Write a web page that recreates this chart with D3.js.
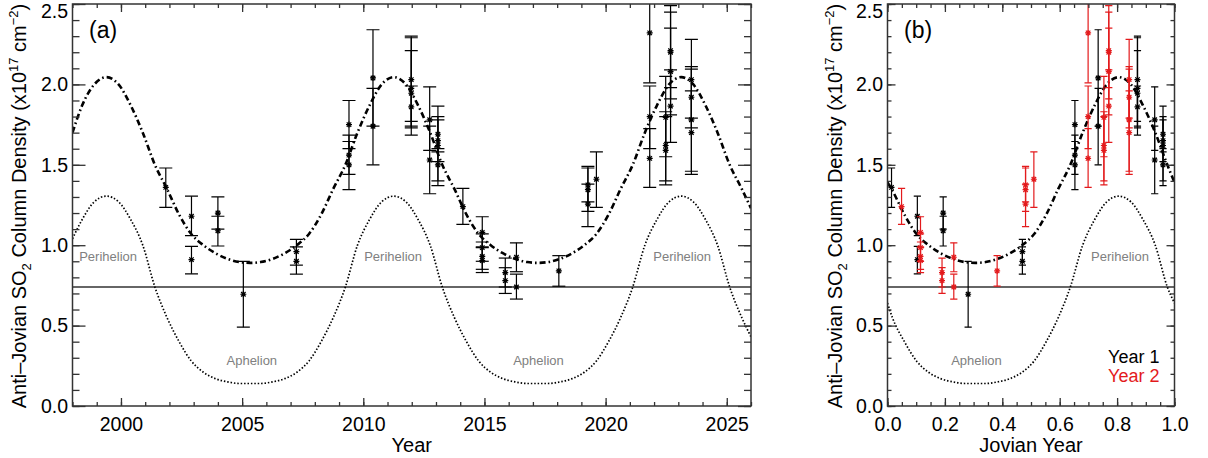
<!DOCTYPE html>
<html lang="en">
<head>
<meta charset="UTF-8">
<title>Anti-Jovian SO2 Column Density</title>
<script src="https://d3js.org/d3.v7.min.js"></script>
<style>
    body { margin: 0; background: #fff; }
    svg { display: block; font-family: "Liberation Sans", Arial, sans-serif; }
    .tick text { font-size: 19.5px; fill: #000; }
    .tick line { stroke: #333; stroke-width: 1.3px; }
    .frame { fill: none; stroke: #333; stroke-width: 1.5px; }
    .note { font-size: 13px; fill: #808080; }
    .axis-label { font-size: 20px; fill: #000; }
</style>
</head>
<body>
<svg width="1208" height="458"></svg>
<script>
// Model curves vs calendar year
const modelYear = [1998.0, 1998.4, 1998.9, 1999.4, 1999.9, 2000.4, 2000.9, 2001.4, 2001.9, 2002.4, 2002.9,
    2003.4, 2003.9, 2004.4, 2004.9, 2005.33, 2005.76, 2006.26, 2006.76, 2007.26, 2007.76, 2008.26, 2008.76,
    2009.26, 2009.76, 2010.26, 2010.76, 2011.26, 2011.76, 2012.26, 2012.76, 2013.26, 2013.76, 2014.26, 2014.76,
    2015.26, 2015.76, 2016.26, 2016.76, 2017.19, 2017.62, 2018.12, 2018.62, 2019.12, 2019.62, 2020.12, 2020.62,
    2021.12, 2021.62, 2022.12, 2022.62, 2023.12, 2023.62, 2024.12, 2024.62, 2025.12, 2025.62, 2026.0];
const modelColumn = [1.70, 1.87, 2.00, 2.045, 2.00, 1.87, 1.70, 1.50, 1.35, 1.19, 1.07,
    1.00, 0.95, 0.915, 0.895, 0.89, 0.895, 0.915, 0.95, 1.00, 1.07, 1.19, 1.35,
    1.50, 1.70, 1.87, 2.00, 2.045, 2.00, 1.87, 1.70, 1.50, 1.35, 1.19, 1.07,
    1.00, 0.95, 0.915, 0.895, 0.89, 0.895, 0.915, 0.95, 1.00, 1.07, 1.19, 1.35,
    1.50, 1.70, 1.87, 2.00, 2.045, 2.00, 1.87, 1.70, 1.50, 1.35, 1.23];
const modelDotted = [1.04, 1.16, 1.27, 1.305, 1.27, 1.16, 1.00, 0.74, 0.55, 0.40, 0.28,
    0.21, 0.17, 0.15, 0.14, 0.14, 0.14, 0.15, 0.17, 0.21, 0.28, 0.40, 0.55,
    0.74, 1.00, 1.16, 1.27, 1.305, 1.27, 1.16, 1.00, 0.74, 0.55, 0.40, 0.28,
    0.21, 0.17, 0.15, 0.14, 0.14, 0.14, 0.15, 0.17, 0.21, 0.28, 0.40, 0.55,
    0.74, 1.00, 1.16, 1.27, 1.305, 1.27, 1.16, 1.00, 0.74, 0.55, 0.43];

// Model curves vs Jovian year (panel b)
const modelPhase = [0.000, 0.017, 0.059, 0.101, 0.143, 0.185, 0.228, 0.270, 0.306, 0.342, 0.384, 0.427, 0.469,
    0.511, 0.553, 0.595, 0.637, 0.680, 0.722, 0.764, 0.806, 0.848, 0.890, 0.933, 0.975, 1.000];
const phaseColumn = [1.39, 1.34, 1.19, 1.07, 1.00, 0.95, 0.915, 0.895, 0.89, 0.895, 0.915, 0.95, 1.00,
    1.07, 1.19, 1.35, 1.50, 1.70, 1.87, 2.00, 2.045, 2.00, 1.87, 1.70, 1.50, 1.39];
const phaseDotted = [0.64, 0.55, 0.40, 0.28, 0.21, 0.17, 0.15, 0.14, 0.14, 0.14, 0.15, 0.17, 0.21,
    0.28, 0.40, 0.55, 0.74, 1.00, 1.16, 1.27, 1.305, 1.27, 1.16, 1.00, 0.74, 0.64];

const floorLevel = 0.74;

// Observations
const obsYear = [2001.85, 2002.91, 2002.91, 2004.0, 2004.0, 2005.05, 2007.24, 2007.24, 2009.41, 2009.41, 2009.41,
    2010.40, 2010.40, 2011.98, 2011.98, 2011.98, 2011.98, 2012.74, 2012.74, 2013.08, 2013.08, 2013.08, 2013.08,
    2014.11, 2014.91, 2014.91, 2014.91, 2014.91, 2015.86, 2015.86, 2016.32, 2016.32, 2018.07,
    2019.27, 2019.27, 2019.27, 2019.62, 2021.82, 2021.82, 2021.82, 2022.48, 2022.48, 2022.48,
    2022.68, 2022.68, 2022.68, 2022.68, 2023.54, 2023.54, 2023.54, 2023.54];
const obsPhase = [0.014, 0.104, 0.104, 0.194, 0.194, 0.281, 0.470, 0.470, 0.653, 0.653, 0.653,
    0.734, 0.734, 0.871, 0.871, 0.871, 0.871, 0.931, 0.931, 0.960, 0.960, 0.960, 0.960,
    0.049, 0.115, 0.115, 0.115, 0.115, 0.190, 0.190, 0.231, 0.231, 0.382,
    0.481, 0.481, 0.481, 0.510, 0.699, 0.699, 0.699, 0.754, 0.754, 0.754,
    0.771, 0.771, 0.771, 0.771, 0.842, 0.842, 0.842, 0.842];
const obsValue = [1.36, 1.18, 0.91, 1.20, 1.09, 0.695, 0.96, 0.90, 1.75, 1.56, 1.50,
    2.04, 1.74, 2.03, 1.975, 1.945, 1.86, 1.78, 1.53, 1.69, 1.65, 1.62, 1.50,
    1.24, 1.08, 0.985, 0.93, 0.905, 0.83, 0.78, 0.925, 0.74, 0.84,
    1.375, 1.345, 1.255, 1.41, 2.32, 1.80, 1.54, 1.795, 1.62, 1.59,
    2.21, 2.20, 2.08, 1.865, 2.03, 1.92, 1.78, 1.70];
const obsLow = [1.235, 1.06, 0.822, 1.10, 0.995, 0.49, 0.876, 0.82, 1.60, 1.44, 1.345,
    1.74, 1.50, 1.77, 1.74, 1.685, 1.73, 1.59, 1.32, 1.58, 1.52, 1.37, 1.40,
    1.13, 0.99, 0.90, 0.85, 0.83, 0.74, 0.70, 0.835, 0.665, 0.745,
    1.27, 1.21, 1.115, 1.235, 2.01, 1.60, 1.36, 1.55, 1.40, 1.375,
    1.98, 1.91, 1.81, 1.64, 1.79, 1.73, 1.46, 1.44];
const obsHigh = [1.48, 1.305, 0.993, 1.30, 1.18, 0.90, 1.036, 0.99, 1.90, 1.685, 1.645,
    2.34, 1.975, 2.29, 2.21, 2.30, 1.99, 1.985, 1.74, 1.80, 1.78, 1.865, 1.60,
    1.353, 1.177, 1.07, 1.02, 0.985, 0.92, 0.86, 1.015, 0.82, 0.935,
    1.49, 1.48, 1.38, 1.58, 2.64, 1.99, 1.725, 2.05, 1.83, 1.80,
    2.45, 2.49, 2.35, 2.09, 2.28, 2.11, 2.095, 1.96];
const obsOrbit = [1, 1, 1, 1, 1, 1, 1, 1, 1, 1, 1, 1, 1, 1, 1, 1, 1, 1, 1, 1, 1, 1, 1,
    2, 2, 2, 2, 2, 2, 2, 2, 2, 2, 2, 2, 2, 2, 2, 2, 2, 2, 2, 2, 2, 2, 2, 2, 2, 2, 2, 2];

// Axis ticks
const yMajor = [0.0, 0.5, 1.0, 1.5, 2.0, 2.5];
const yearMajor = [2000, 2005, 2010, 2015, 2020, 2025];
const phaseMajor = [0.0, 0.2, 0.4, 0.6, 0.8, 1.0];

// Annotation anchors
const periYears = [1999.47, 2011.23, 2023.16];
const aphYears = [2005.4, 2017.23];

const orbitColor = { 1: "#000000", 2: "#e31a1c" };

const svg = d3.select("svg");
const plotTop = 4, plotBottom = 406;

const y = d3.scaleLinear().domain([0, 2.5]).range([plotBottom, plotTop]);

const obs = obsYear.map((yr, i) => ({
    year: yr, phase: obsPhase[i], v: obsValue[i], lo: obsLow[i], hi: obsHigh[i], orbit: obsOrbit[i]
}));

// plus + cross asterisk, like IDL psym=2
const asterisk = {
    draw(ctx, size) {
        const r = Math.sqrt(size) / 2, d = r * 0.75;
        ctx.moveTo(-r, 0); ctx.lineTo(r, 0);
        ctx.moveTo(0, -r); ctx.lineTo(0, r);
        ctx.moveTo(-d, -d); ctx.lineTo(d, d);
        ctx.moveTo(-d, d); ctx.lineTo(d, -d);
    }
};

function drawPanel(opt) {
    const x = d3.scaleLinear().domain(opt.domain).range([opt.left, opt.right]);
    const g = svg.append("g");

    const clipId = "clip-" + opt.tag;
    svg.append("defs").append("clipPath").attr("id", clipId)
        .append("rect")
        .attr("x", opt.left).attr("y", plotTop)
        .attr("width", opt.right - opt.left).attr("height", plotBottom - plotTop);

    const plot = g.append("g").attr("clip-path", `url(#${clipId})`);

    // floor level
    plot.append("line")
        .attr("x1", opt.left).attr("x2", opt.right)
        .attr("y1", y(floorLevel)).attr("y2", y(floorLevel))
        .attr("stroke", "#333").attr("stroke-width", 1.5);

    const line = d3.line().curve(d3.curveMonotoneX).x(d => x(d[0])).y(d => y(d[1]));

    plot.append("path")
        .datum(opt.curveX.map((v, i) => [v, opt.dotted[i]]))
        .attr("d", line)
        .attr("fill", "none").attr("stroke", "#000")
        .attr("stroke-width", 1.7).attr("stroke-dasharray", "1.5,1.9");

    plot.append("path")
        .datum(opt.curveX.map((v, i) => [v, opt.column[i]]))
        .attr("d", line)
        .attr("fill", "none").attr("stroke", "#000")
        .attr("stroke-width", 2.6).attr("stroke-dasharray", "6,3,1.6,3");

    // annotations
    g.selectAll(".peri").data(opt.peri).join("text")
        .attr("class", "note").attr("text-anchor", "middle")
        .attr("x", d => x(d)).attr("y", y(0.9))
        .text("Perihelion");
    g.selectAll(".aph").data(opt.aph).join("text")
        .attr("class", "note").attr("text-anchor", "middle")
        .attr("x", d => x(d)).attr("y", y(0.252))
        .text("Aphelion");

    // error bars and markers
    const pts = plot.selectAll(".obs").data(obs).join("g")
        .attr("class", "obs")
        .attr("stroke", d => opt.colorByOrbit ? orbitColor[d.orbit] : "#000")
        .attr("stroke-width", 1.2);
    const cx = d => x(opt.xOf(d));
    pts.append("line")
        .attr("x1", cx).attr("x2", cx)
        .attr("y1", d => y(d.lo)).attr("y2", d => y(d.hi));
    pts.append("line")
        .attr("x1", d => cx(d) - opt.cap).attr("x2", d => cx(d) + opt.cap)
        .attr("y1", d => y(d.lo)).attr("y2", d => y(d.lo));
    pts.append("line")
        .attr("x1", d => cx(d) - opt.cap).attr("x2", d => cx(d) + opt.cap)
        .attr("y1", d => y(d.hi)).attr("y2", d => y(d.hi));
    pts.append("path")
        .attr("transform", d => `translate(${cx(d)},${y(d.v)})`)
        .attr("d", d3.symbol(asterisk, 36))
        .attr("fill", "none");

    // axes (ticks point inward on all four sides)
    const minorY = d3.range(0, 2.501, 0.1);
    const axes = [
        g.append("g").attr("transform", `translate(0,${plotBottom})`)
            .call(d3.axisBottom(x).tickValues(opt.minorX).tickSize(-4).tickFormat("")),
        g.append("g").attr("transform", `translate(0,${plotBottom})`)
            .call(d3.axisBottom(x).tickValues(opt.majorX).tickSize(-8).tickPadding(11).tickFormat(opt.fmt)),
        g.append("g").attr("transform", `translate(0,${plotTop})`)
            .call(d3.axisTop(x).tickValues(opt.minorX).tickSize(-4).tickFormat("")),
        g.append("g").attr("transform", `translate(0,${plotTop})`)
            .call(d3.axisTop(x).tickValues(opt.majorX).tickSize(-8).tickFormat("")),
        g.append("g").attr("transform", `translate(${opt.left},0)`)
            .call(d3.axisLeft(y).tickValues(minorY).tickSize(-opt.yMinorLen).tickFormat("")),
        g.append("g").attr("transform", `translate(${opt.left},0)`)
            .call(d3.axisLeft(y).tickValues(yMajor).tickSize(-opt.yMajorLen).tickPadding(4.5).tickFormat(d3.format(".1f"))),
        g.append("g").attr("transform", `translate(${opt.right},0)`)
            .call(d3.axisRight(y).tickValues(minorY).tickSize(-opt.yMinorLen).tickFormat("")),
        g.append("g").attr("transform", `translate(${opt.right},0)`)
            .call(d3.axisRight(y).tickValues(yMajor).tickSize(-opt.yMajorLen).tickFormat(""))
    ];
    axes.forEach(a => a.select(".domain").remove());
    // the top label sits just inside the page, as in the original
    axes[5].selectAll(".tick text").filter(d => d === 2.5).attr("y", 7);

    g.append("rect").attr("class", "frame")
        .attr("x", opt.left).attr("y", plotTop)
        .attr("width", opt.right - opt.left).attr("height", plotBottom - plotTop);

    // x title
    g.append("text").attr("class", "axis-label")
        .attr("text-anchor", "middle")
        .attr("x", (opt.left + opt.right) / 2).attr("y", 451.5)
        .text(opt.xTitle);

    // y title
    const yt = g.append("text").attr("class", "axis-label")
        .attr("text-anchor", "middle")
        .attr("transform", `translate(${opt.yTitleX},${(plotTop + plotBottom) / 2 + 1}) rotate(-90)`);
    yt.append("tspan").text("Anti\u2013Jovian SO");
    yt.append("tspan").attr("font-size", 13).attr("dy", 5).text("2");
    yt.append("tspan").attr("dy", -5).text(" Column Density (x10");
    yt.append("tspan").attr("font-size", 13).attr("dy", -8).text("17");
    yt.append("tspan").attr("dy", 8).text(" cm");
    yt.append("tspan").attr("font-size", 13).attr("dy", -8).text("\u22122");
    yt.append("tspan").attr("dy", 8).text(")");

    // panel tag
    g.append("text")
        .attr("x", opt.left + 16.5).attr("y", 38)
        .attr("font-size", 23)
        .text(`(${opt.tag})`);

    return { g, x };
}

drawPanel({
    tag: "a", left: 72.5, right: 751,
    domain: [1998, 2026],
    majorX: yearMajor, minorX: d3.range(1998, 2027, 1), fmt: d3.format("d"),
    yMajorLen: 13, yMinorLen: 7, cap: 6.5,
    curveX: modelYear, column: modelColumn, dotted: modelDotted,
    peri: periYears, aph: aphYears,
    xOf: d => d.year, colorByOrbit: false,
    xTitle: "Year", yTitleX: 26
});

const b = drawPanel({
    tag: "b", left: 887.5, right: 1174.5,
    domain: [0, 1],
    majorX: phaseMajor, minorX: d3.range(0, 1.001, 0.05), fmt: d3.format(".1f"),
    yMajorLen: 8, yMinorLen: 4, cap: 3.6,
    curveX: modelPhase, column: phaseColumn, dotted: phaseDotted,
    peri: [0.81], aph: [0.31],
    xOf: d => d.phase, colorByOrbit: true,
    xTitle: "Jovian Year", yTitleX: 841.5
});

// legend
const legend = [["Year 1", orbitColor[1]], ["Year 2", orbitColor[2]]];
b.g.selectAll(".leg").data(legend).join("text")
    .attr("class", "leg")
    .attr("text-anchor", "end")
    .attr("x", 1159.5)
    .attr("y", (d, i) => 362.7 + i * 19.6)
    .attr("font-size", 18)
    .attr("fill", d => d[1])
    .text(d => d[0]);
</script>
</body>
</html>
